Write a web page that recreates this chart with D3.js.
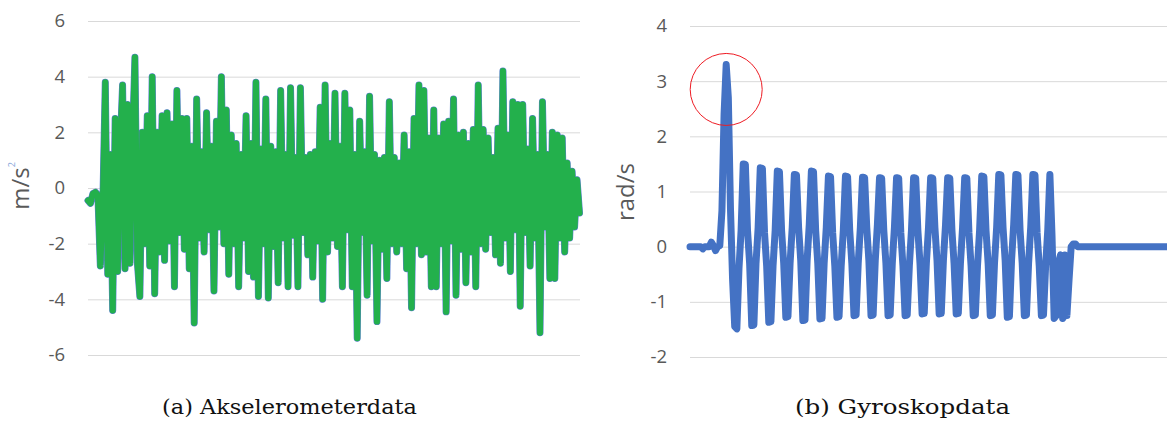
<!DOCTYPE html>
<html>
<head>
<meta charset="utf-8">
<script src="https://cdn.jsdelivr.net/npm/d3@7"></script>
<style>
  html, body { margin: 0; padding: 0; background: #fff; }
  svg { display: block; }
</style>
</head>
<body>
<div id="chart"></div>
<script>
// accelerometer samples (m/s^2)
const accelValues = [
  -0.45, -0.55, -0.2, -0.15, -0.25, -2.8, -0.6, 3.8, -3.1, 1.2,
  -4.4, 2.5, -3.0, 1.4, 3.7, -2.9, 3.0, -2.7, 1.6, 4.7,
  -2.7, -3.9, 2.0, -2.0, 2.6, -2.8, 4.0, -3.8, 2.0, -2.3,
  2.6, -2.6, 2.7, -1.9, 2.3, -3.55, 3.5, -1.6, 2.5, -2.2,
  2.5, -2.9, 1.5, -4.85, 3.2, -1.8, 1.3, -2.3, 2.7, -1.5,
  1.5, -3.7, 2.4, -1.4, 4.0, -2.0, 2.8, -3.1, 1.9, -2.0,
  1.6, -3.55, 1.2, -1.8, 2.6, -3.0, 1.6, -3.2, 3.8, -3.9,
  1.4, -2.0, 3.2, -3.95, 1.5, -2.1, 1.3, -3.4, 3.5, -1.8,
  1.2, -3.55, 3.6, -1.7, 1.1, -3.55, 3.6, -1.6, 1.1, -2.4,
  1.2, -3.2, 1.3, -1.9, 2.9, -4.0, 3.7, -2.3, 1.6, -1.8,
  3.4, -2.1, 1.5, -3.55, 3.4, -1.5, 2.8, -3.55, 1.2, -5.4,
  2.4, -1.6, 1.3, -3.85, 3.3, -1.9, 1.2, -4.8, 1.0, -2.2,
  1.1, -3.25, 3.1, -2.0, 1.1, -2.3, 0.9, -2.0, 1.9, -2.9,
  1.3, -4.3, 2.5, -2.0, 3.7, -2.4, 3.5, -2.3, 1.8, -3.55,
  2.8, -3.55, 1.8, -2.0, 2.3, -4.45, 2.4, -1.9, 3.2, -3.85,
  1.9, -2.2, 2.0, -3.4, 1.6, -2.3, 2.1, -3.55, 3.7, -2.0,
  2.1, -2.2, 1.8, -1.6, 1.1, -2.4, 2.15, -2.7, 4.2, -1.8,
  1.9, -3.0, 3.1, -1.5, 3.0, -4.25, 3.0, -1.6, 1.4, -2.8,
  2.5, -1.8, 1.2, -5.2, 3.1, -1.4, 1.2, -3.25, 2.0, -3.25,
  1.9, -1.8, 1.8, -2.3, 0.9, -1.8, 0.6, -1.4, 0.3, -0.9
];

// gyroscope samples (rad/s)
const gyroValues = [
  0, 0, 0, 0, 0, 0, -0.04, 0, 0, 0, 0.08, 0.02, -0.07, 0, 0.02,
  0.65, 2.4, 3.3, 2.7, 0.7, -0.6, -1.45, -1.49, -0.4, 0.3,
  1.5, 1.49, 0.3, -0.3, -1.43, -1.42, -0.3, 0.35,
  1.43, 1.42, 0.25, -0.35, -1.37, -1.36, -0.35, 0.3,
  1.37, 1.36, 0.3, -0.3, -1.28, -1.27, -0.3, 0.35,
  1.31, 1.3, 0.35, -0.25, -1.34, -1.33, -0.25, 0.4,
  1.37, 1.36, 0.3, -0.3, -1.31, -1.3, -0.3, 0.35,
  1.28, 1.27, 0.25, -0.35, -1.28, -1.27, -0.35, 0.3,
  1.28, 1.27, 0.3, -0.3, -1.25, -1.24, -0.3, 0.35,
  1.26, 1.25, 0.35, -0.25, -1.25, -1.24, -0.25, 0.4,
  1.25, 1.24, 0.3, -0.3, -1.25, -1.24, -0.3, 0.35,
  1.25, 1.24, 0.25, -0.35, -1.25, -1.24, -0.35, 0.3,
  1.25, 1.24, 0.3, -0.3, -1.22, -1.21, -0.3, 0.35,
  1.25, 1.24, 0.35, -0.25, -1.22, -1.21, -0.25, 0.4,
  1.25, 1.24, 0.3, -0.3, -1.22, -1.21, -0.3, 0.35,
  1.25, 1.24, 0.25, -0.35, -1.25, -1.24, -0.35, 0.3,
  1.28, 1.27, 0.3, -0.3, -1.25, -1.24, -0.3, 0.35,
  1.31, 1.3, 0.35, -0.25, -1.28, -1.27, -0.25, 0.4,
  1.31, 1.3, 0.3, -0.3, -1.25, -1.24, -0.3, 0.35,
  1.31, 1.3, 0.25, -0.35, -1.25, -1.24, -0.35, 0.3,
  1.31, 0.2, -1.3, -1.25, -0.3, -0.15, -1.3, -0.15, -1.25, -0.6, 0, 0.05, 0.05,
  0, 0, 0, 0, 0, 0, 0, 0, 0, 0,
  0, 0, 0, 0, 0, 0, 0, 0, 0, 0,
  0, 0, 0, 0, 0, 0, 0, 0, 0, 0,
  0, 0, 0, 0, 0, 0, 0, 0, 0, 0,
  0, 0, 0
];

const accelTicks = [-6, -4, -2, 0, 2, 4, 6];
const gyroTicks = [-2, -1, 0, 1, 2, 3, 4];
const peakIndex = 17;      // highlighted gyro spike
const peakCircleValue = 2.85;

const width = 1167, height = 422;

const svg = d3.select('#chart').append('svg')
    .attr('width', width)
    .attr('height', height);

const drawGrid = (g, y, ticks, w, pad) => {
    g.call(d3.axisLeft(y).tickValues(ticks).tickSize(-w).tickPadding(pad))
    g.select('.domain').remove();
    g.selectAll('.tick line').attr('stroke', '#d9d9d9').attr('stroke-width', 1);
    g.selectAll('.tick text')
        .attr('fill', '#595959')
        .style('font', '18.5px "Open Sans", sans-serif')
        .text(d => d < 0 ? '-' + Math.abs(d) : d);
}

// ---- (a) accelerometer ----
const xA = d3.scaleLinear().domain([0, accelValues.length - 1]).range([88, 579.5]);
const yA = d3.scaleLinear().domain([-6, 6]).range([355, 21]);

const gA = svg.append('g').attr('transform', 'translate(88,0)');
drawGrid(gA, yA, accelTicks, 492, 23);

const lineA = d3.line().x((d, i) => xA(i)).y(d => yA(d));

svg.append('path')
    .datum(accelValues)
    .attr('d', lineA)
    .attr('fill', 'none')
    .attr('stroke', '#5b7fd0')
    .attr('stroke-width', 7)
    .attr('stroke-linejoin', 'round')
    .attr('stroke-linecap', 'round');

svg.append('path')
    .datum(accelValues)
    .attr('d', lineA)
    .attr('fill', 'none')
    .attr('stroke', '#23b04c')
    .attr('stroke-width', 6)
    .attr('stroke-linejoin', 'round')
    .attr('stroke-linecap', 'round');

const titleA = svg.append('text')
    .attr('transform', 'translate(29,186) rotate(-90)')
    .attr('text-anchor', 'middle')
    .attr('fill', '#595959')
    .style('font', '24px "Open Sans", sans-serif');
titleA.append('tspan').text('m/s');
titleA.append('tspan')
    .attr('dy', -14)
    .attr('fill', '#7fa3d8')
    .style('font-size', '9px')
    .text('2');

// ---- (b) gyroscope ----
const xG = d3.scaleLinear().domain([0, gyroValues.length - 1]).range([690, 1167]);
const yG = d3.scaleLinear().domain([-2, 4]).range([357, 26]);

const gG = svg.append('g').attr('transform', 'translate(690,0)');
drawGrid(gG, yG, gyroTicks, 477, 23);

svg.append('path')
    .datum(gyroValues)
    .attr('d', d3.line().x((d, i) => xG(i)).y(d => yG(d)))
    .attr('fill', 'none')
    .attr('stroke', '#4472c4')
    .attr('stroke-width', 7)
    .attr('stroke-linejoin', 'round')
    .attr('stroke-linecap', 'round');

svg.append('circle')
    .attr('cx', xG(peakIndex))
    .attr('cy', yG(peakCircleValue))
    .attr('r', 36)
    .attr('fill', 'none')
    .attr('stroke', '#ee1c24')
    .attr('stroke-width', 1);

svg.append('text')
    .attr('transform', 'translate(634,192) rotate(-90)')
    .attr('text-anchor', 'middle')
    .attr('fill', '#595959')
    .style('font', '24px "Open Sans", sans-serif')
    .text('rad/s');

// captions
svg.append('text')
    .attr('x', 162).attr('y', 414)
    .attr('textLength', 255)
    .attr('lengthAdjust', 'spacingAndGlyphs')
    .attr('fill', '#111')
    .style('font', '20.5px "DejaVu Serif", serif')
    .text('(a) Akselerometerdata');

svg.append('text')
    .attr('x', 795).attr('y', 414)
    .attr('textLength', 215)
    .attr('lengthAdjust', 'spacingAndGlyphs')
    .attr('fill', '#111')
    .style('font', '20.5px "DejaVu Serif", serif')
    .text('(b) Gyroskopdata');
</script>
</body>
</html>
